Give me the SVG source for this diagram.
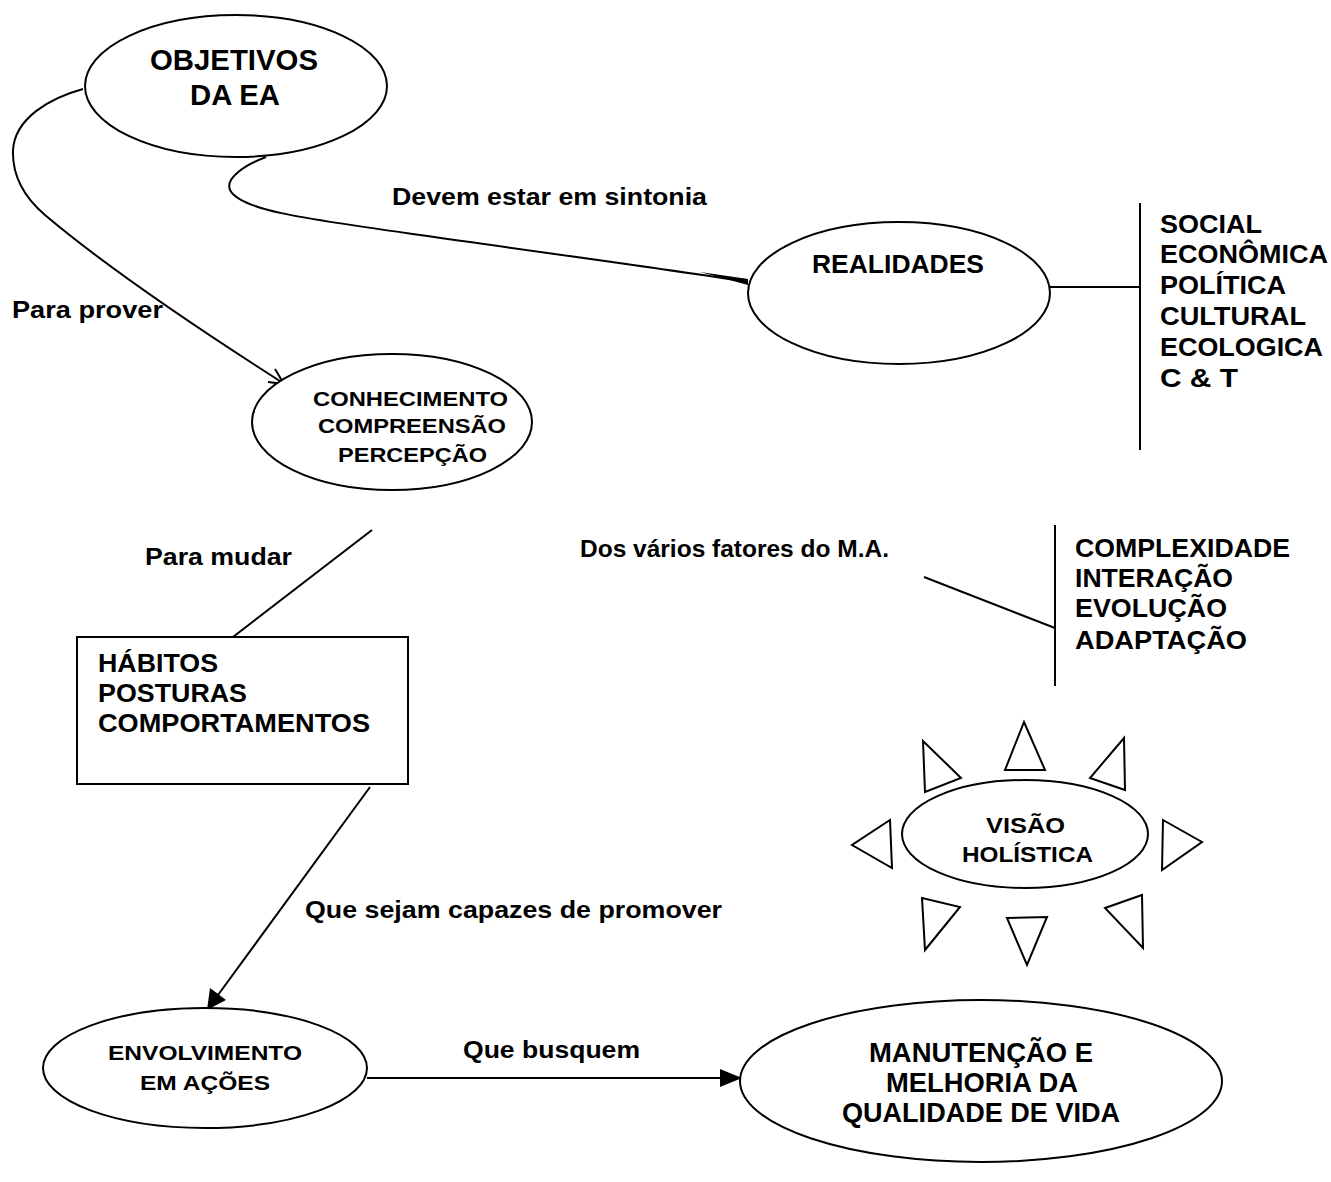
<svg xmlns="http://www.w3.org/2000/svg" width="1331" height="1182" viewBox="0 0 1331 1182">
<defs>
<style>
text{font-family:"Liberation Sans",Arial,sans-serif;font-weight:bold;fill:#000}
.n{fill:#fff;stroke:#000;stroke-width:2}
.c{fill:none;stroke:#000;stroke-width:2}
.t{fill:#fff;stroke:#000;stroke-width:2;stroke-linejoin:miter}
</style>
</defs>
<rect width="1331" height="1182" fill="#fff"/>

<g id="connectors">
<path class="c" d="M83,89 C50,98 15,118 13,150 C12,178 25,198 45,215 C110,270 200,330 283,383"/>
<path class="c" d="M275,369 L284,384 L268,382"/>
<path class="c" d="M266,157 C245,165 225,178 230,190 C240,210 300,218 420,235 C560,255 660,268 748,282"/>
<path d="M700,272 L748,279 L748,285 Z" fill="#000"/>
<path class="c" d="M1050,287 L1140,287"/>
<path class="c" d="M1140,203 L1140,450"/>
<path class="c" d="M372,530 L233,637"/>
<path class="c" d="M924,577 L1055,628"/>
<path class="c" d="M1055,525 L1055,686"/>
<path class="c" d="M370,787 L218,995"/>
<path d="M207,1010 L210,988 L226,1000 Z" fill="#000"/>
<path class="c" d="M367,1078 L722,1078"/>
<path d="M742,1078 L720,1069 L720,1087 Z" fill="#000"/>
<text x="392" y="205" font-size="24" textLength="315" lengthAdjust="spacingAndGlyphs">Devem estar em sintonia</text>
<text x="12" y="318" font-size="24" textLength="151" lengthAdjust="spacingAndGlyphs">Para prover</text>
<text x="145" y="565" font-size="24" textLength="147" lengthAdjust="spacingAndGlyphs">Para mudar</text>
<text x="580" y="557" font-size="23" textLength="309" lengthAdjust="spacingAndGlyphs">Dos vários fatores do M.A.</text>
<text x="305" y="918" font-size="24" textLength="417" lengthAdjust="spacingAndGlyphs">Que sejam capazes de promover</text>
<text x="463" y="1058" font-size="24" textLength="177" lengthAdjust="spacingAndGlyphs">Que busquem</text>
</g>

<g id="objetivos">
<ellipse class="n" cx="236" cy="86" rx="151" ry="71"/>
<text x="150" y="70" font-size="29" textLength="168" lengthAdjust="spacingAndGlyphs">OBJETIVOS</text>
<text x="190" y="105" font-size="29" textLength="90" lengthAdjust="spacingAndGlyphs">DA EA</text>
</g>

<g id="realidades">
<ellipse class="n" cx="899" cy="293" rx="151" ry="71"/>
<text x="812" y="273" font-size="25" textLength="172" lengthAdjust="spacingAndGlyphs">REALIDADES</text>
</g>

<g id="realidades-list">
<text x="1160" y="233" font-size="26" textLength="102" lengthAdjust="spacingAndGlyphs">SOCIAL</text>
<text x="1160" y="263" font-size="26" textLength="168" lengthAdjust="spacingAndGlyphs">ECONÔMICA</text>
<text x="1160" y="294" font-size="26" textLength="126" lengthAdjust="spacingAndGlyphs">POLÍTICA</text>
<text x="1160" y="325" font-size="26" textLength="146" lengthAdjust="spacingAndGlyphs">CULTURAL</text>
<text x="1160" y="356" font-size="26" textLength="163" lengthAdjust="spacingAndGlyphs">ECOLOGICA</text>
<text x="1160" y="387" font-size="26" textLength="78" lengthAdjust="spacingAndGlyphs">C &amp;  T</text>
</g>

<g id="conhecimento">
<ellipse class="n" cx="392" cy="422" rx="140" ry="68"/>
<text x="313" y="406" font-size="21" textLength="195" lengthAdjust="spacingAndGlyphs">CONHECIMENTO</text>
<text x="318" y="433" font-size="21" textLength="188" lengthAdjust="spacingAndGlyphs">COMPREENSÃO</text>
<text x="338" y="462" font-size="21" textLength="149" lengthAdjust="spacingAndGlyphs">PERCEPÇÃO</text>
</g>

<g id="fatores-list">
<text x="1075" y="557" font-size="25" textLength="215" lengthAdjust="spacingAndGlyphs">COMPLEXIDADE</text>
<text x="1075" y="587" font-size="25" textLength="158" lengthAdjust="spacingAndGlyphs">INTERAÇÃO</text>
<text x="1075" y="617" font-size="25" textLength="152" lengthAdjust="spacingAndGlyphs">EVOLUÇÃO</text>
<text x="1075" y="649" font-size="25" textLength="172" lengthAdjust="spacingAndGlyphs">ADAPTAÇÃO</text>
</g>

<g id="habitos">
<rect class="n" x="77" y="637" width="331" height="147"/>
<text x="98" y="672" font-size="25" textLength="120" lengthAdjust="spacingAndGlyphs">HÁBITOS</text>
<text x="98" y="702" font-size="25" textLength="149" lengthAdjust="spacingAndGlyphs">POSTURAS</text>
<text x="98" y="732" font-size="25" textLength="272" lengthAdjust="spacingAndGlyphs">COMPORTAMENTOS</text>
</g>

<g id="visao">
<polygon class="t" points="1024,722 1045,770 1005,770"/>
<polygon class="t" points="923,741 961,778 925,792"/>
<polygon class="t" points="1124,738 1125,790 1090,778"/>
<polygon class="t" points="890,820 892,868 852,845"/>
<polygon class="t" points="1163,820 1202,842 1162,870"/>
<polygon class="t" points="922,898 960,907 925,950"/>
<polygon class="t" points="1007,918 1047,917 1027,965"/>
<polygon class="t" points="1105,908 1142,895 1143,948"/>
<ellipse class="n" cx="1025" cy="834" rx="123" ry="54"/>
<text x="986" y="833" font-size="22" textLength="79" lengthAdjust="spacingAndGlyphs">VISÃO</text>
<text x="962" y="862" font-size="22" textLength="131" lengthAdjust="spacingAndGlyphs">HOLÍSTICA</text>
</g>

<g id="envolvimento">
<ellipse class="n" cx="205" cy="1068" rx="162" ry="60"/>
<text x="108" y="1060" font-size="21" textLength="194" lengthAdjust="spacingAndGlyphs">ENVOLVIMENTO</text>
<text x="140" y="1090" font-size="21" textLength="130" lengthAdjust="spacingAndGlyphs">EM AÇÕES</text>
</g>

<g id="manutencao">
<ellipse class="n" cx="981" cy="1081" rx="241" ry="81"/>
<text x="869" y="1062" font-size="28" textLength="224" lengthAdjust="spacingAndGlyphs">MANUTENÇÃO E</text>
<text x="886" y="1092" font-size="28" textLength="192" lengthAdjust="spacingAndGlyphs">MELHORIA DA</text>
<text x="842" y="1122" font-size="28" textLength="278" lengthAdjust="spacingAndGlyphs">QUALIDADE DE VIDA</text>
</g>
</svg>
